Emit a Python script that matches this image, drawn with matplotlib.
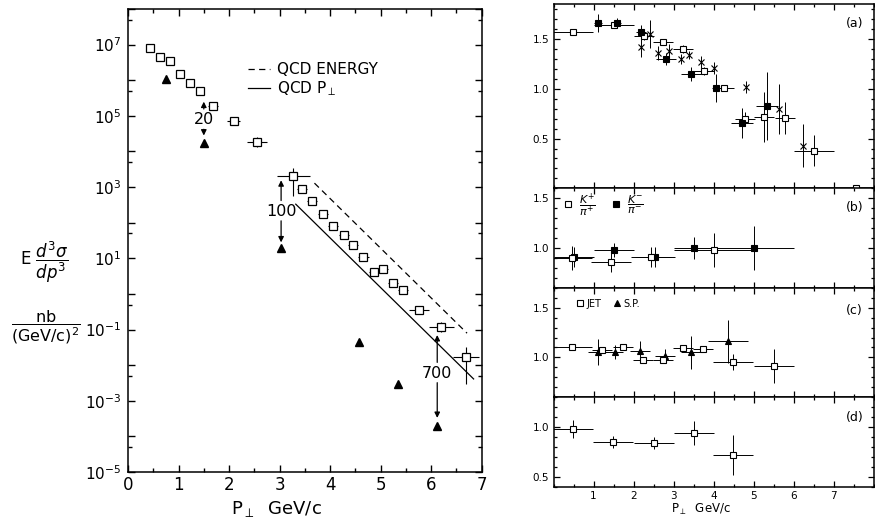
import matplotlib
matplotlib.use('Agg')
import matplotlib.pyplot as plt
from matplotlib.lines import Line2D
from matplotlib.ticker import FixedLocator, FuncFormatter, MultipleLocator, NullFormatter
import numpy as np

plt.rcParams.update({
    'font.family': 'DejaVu Sans',
    'mathtext.fontset': 'dejavusans',
    'axes.linewidth': 1.1,
    'xtick.direction': 'in', 'ytick.direction': 'in',
    'xtick.top': True, 'ytick.right': True,
})

# ---- invariant cross section, jet trigger (open squares) ----
jet_pt = [0.43, 0.63, 0.84, 1.03, 1.22, 1.43, 1.69, 2.09, 2.56, 3.27, 3.44, 3.65,
          3.86, 4.06, 4.27, 4.46, 4.66, 4.86, 5.04, 5.25, 5.44, 5.76, 6.20, 6.69]
jet_xs = [7.9e6, 4.4e6, 3.5e6, 1.5e6, 8.1e5, 4.9e5, 1.9e5, 7.2e4, 1.9e4, 2.0e3, 870, 400,
          180, 80, 46, 23, 10.7, 4.1, 5.0, 2.0, 1.26, 0.36, 0.115, 0.017]
jet_dx = [0.06, 0.06, 0.06, 0.06, 0.06, 0.06, 0.1, 0.13, 0.2, 0.33, 0.1, 0.1,
          0.1, 0.1, 0.1, 0.1, 0.1, 0.1, 0.1, 0.1, 0.1, 0.2, 0.25, 0.25]
# error bar extent in decades below / above the point
jet_dn = [0, 0, 0, 0, 0, 0, 0, 0, 0.14, 0.55, 0, 0, 0, 0, 0, 0, 0, 0, 0, 0, 0, 0, 0.14, 0.75]
jet_up = [0, 0, 0, 0, 0, 0, 0, 0, 0.14, 0.23, 0, 0, 0, 0, 0, 0, 0, 0, 0, 0, 0, 0, 0.14, 0.28]

# single particle (filled triangles)
sp_pt = [0.75, 1.50, 3.03, 4.58, 5.34, 6.12]
sp_xs = [1.1e6, 1.7e4, 20, 0.044, 0.003, 2e-4]

# jet / single particle ratio markers
factor_pt = [1.50, 3.03, 6.12]
factor_label = ['20', '100', '700']
factor_mid = [7.8e4, 210, 0.006]
factor_top = [2.5e5, 1550, 0.07]
factor_bot = [2.8e4, 28, 3.3e-4]

# QCD predictions
qcd_energy_pt = [3.69, 6.71]
qcd_energy = [1290, 0.079]
qcd_pperp_pt = [3.32, 6.84]
qcd_pperp = [331, 0.0041]

# ---- ratio panel (a) ----
a_open_pt = [0.48, 1.50, 2.25, 2.73, 3.23, 3.75, 4.27, 4.78, 5.27, 5.78, 6.52]
a_open_r = [1.57, 1.64, 1.53, 1.47, 1.40, 1.18, 1.01, 0.70, 0.72, 0.71, 0.38]
a_open_dx = [0.5, 0.5, 0.25, 0.25, 0.25, 0.25, 0.25, 0.25, 0.25, 0.25, 0.5]
a_open_dy = [0.02, 0.02, 0.04, 0.03, 0.04, 0.04, 0.03, 0.07, 0.25, 0.16, 0.16]
a_fill_pt = [1.11, 1.58, 2.19, 2.82, 3.44, 4.07, 4.71, 5.33]
a_fill_r = [1.66, 1.66, 1.57, 1.30, 1.15, 1.01, 0.66, 0.83]
a_fill_dx = [0.1, 0.1, 0.12, 0.25, 0.25, 0.1, 0.27, 0.27]
a_fill_dy = [0.09, 0.05, 0.07, 0.06, 0.07, 0.14, 0.15, 0.34]
a_cross_pt = [2.19, 2.42, 2.60, 2.89, 3.19, 3.39, 3.69, 4.02, 4.82, 5.63, 6.23]
a_cross_r = [1.42, 1.55, 1.36, 1.38, 1.30, 1.34, 1.27, 1.21, 1.02, 0.80, 0.43]
a_cross_dy = [0.10, 0.14, 0.07, 0.07, 0.05, 0.04, 0.06, 0.06, 0.06, 0.25, 0.22]
a_edge_pt = [7.55]
a_edge_r = [0.0]

# ---- panel (b): K/pi ----
kp_pt = [0.45, 1.44, 2.44, 4.02]
kp_r = [0.90, 0.86, 0.91, 0.98]
kp_dx = [0.5, 0.5, 0.5, 1.0]
kp_dy = [0.12, 0.10, 0.10, 0.17]
km_pt = [0.50, 1.50, 2.54, 3.52, 5.02]
km_r = [0.91, 0.98, 0.91, 1.00, 1.00]
km_dx = [0.5, 0.5, 0.5, 0.5, 1.0]
km_dy = [0.10, 0.07, 0.10, 0.11, 0.22]

# ---- panel (c): jet vs single particle ----
c_jet_pt = [0.46, 1.21, 1.73, 2.23, 2.73, 3.23, 3.73, 4.48, 5.50]
c_jet_r = [1.10, 1.07, 1.10, 0.97, 0.97, 1.09, 1.08, 0.95, 0.91]
c_jet_dx = [0.5, 0.25, 0.25, 0.25, 0.25, 0.25, 0.25, 0.5, 0.5]
c_jet_dy = [0.02, 0.02, 0.03, 0.03, 0.03, 0.03, 0.03, 0.08, 0.17]
c_sp_pt = [1.10, 1.54, 2.15, 2.79, 3.43, 4.35]
c_sp_r = [1.05, 1.05, 1.06, 1.01, 1.05, 1.16]
c_sp_dx = [0.25, 0.2, 0.25, 0.25, 0.25, 0.5]
c_sp_dy = [0.13, 0.07, 0.10, 0.07, 0.17, 0.22]

# ---- panel (d) ----
d_pt = [0.48, 1.48, 2.50, 3.50, 4.48]
d_r = [0.98, 0.85, 0.84, 0.94, 0.72]
d_dx = [0.5, 0.5, 0.5, 0.5, 0.5]
d_dy = [0.09, 0.06, 0.06, 0.12, 0.20]

fig = plt.figure(figsize=(8.75, 5.23), dpi=100)

# ================= left: cross sections =================
ax = fig.add_axes([0.1463, 0.0975, 0.4042, 0.8853])
ax.set_yscale('log')
ax.set_xlim(0, 7)
ax.set_ylim(1e-5, 1e8)

xs = np.array(jet_xs)
yerr = [xs - xs * 10 ** -np.array(jet_dn), xs * 10 ** np.array(jet_up) - xs]
ax.errorbar(jet_pt, jet_xs, xerr=jet_dx, yerr=yerr, fmt='s', ms=5.5, mfc='white',
            mec='k', mew=0.9, ecolor='k', elinewidth=0.8, capsize=0, zorder=3)
ax.plot(sp_pt, sp_xs, '^', color='k', ms=5.5, zorder=3)

l_energy, = ax.plot(qcd_energy_pt, qcd_energy, color='k', lw=0.9, ls=(0, (5, 3.5)))
l_pperp, = ax.plot(qcd_pperp_pt, qcd_pperp, color='k', lw=0.9)
ax.legend([l_energy, l_pperp], ['QCD ENERGY', r'QCD P$_{\perp}$'], loc='upper left',
          bbox_to_anchor=(0.34, 0.885), frameon=False, fontsize=11, handlelength=1.4,
          handletextpad=0.5, labelspacing=0.15, borderpad=0, borderaxespad=0)

arrow_kw = dict(arrowstyle='-|>', color='k', lw=0.9, mutation_scale=8, shrinkA=0, shrinkB=0)
for x, lab, mid, top, bot in zip(factor_pt, factor_label, factor_mid, factor_top, factor_bot):
    ax.text(x, mid, lab, ha='center', va='center', fontsize=11.5)
    ax.annotate('', xy=(x, top), xytext=(x, mid * 10 ** 0.3), arrowprops=arrow_kw)
    ax.annotate('', xy=(x, bot), xytext=(x, mid * 10 ** -0.27), arrowprops=arrow_kw)

decades = np.arange(-5, 9)
ax.yaxis.set_major_locator(FixedLocator(10.0 ** decades))
ax.yaxis.set_major_formatter(FuncFormatter(
    lambda v, p: r'$10^{%d}$' % round(np.log10(v)) if round(np.log10(v)) % 2 else ''))
ax.yaxis.set_minor_locator(FixedLocator(5 * 10.0 ** decades[decades % 2 == 1]))
ax.yaxis.set_minor_formatter(NullFormatter())
ax.xaxis.set_major_locator(MultipleLocator(1))
ax.xaxis.set_minor_locator(MultipleLocator(0.5))
ax.tick_params(which='major', length=5, width=1.0, labelsize=12, pad=3)
ax.tick_params(axis='y', which='major', labelsize=11, pad=5)
ax.tick_params(which='minor', length=3, width=1.0)

ax.set_xlabel(r'P$_{\perp}$  GeV/c', fontsize=13)
ax.xaxis.set_label_coords(0.42, -0.058)

fig.text(44 / 875, 1 - 262 / 523, r'E $\dfrac{d^{3}\sigma}{dp^{3}}$', ha='center',
         va='center', fontsize=12)
fig.text(46 / 875, 1 - 327 / 523, r'$\dfrac{\mathrm{nb}}{(\mathrm{GeV/c})^{2}}$',
         ha='center', va='center', fontsize=11.5)

# ================= right: ratios =================
gs = fig.add_gridspec(4, 1, left=0.6326, right=0.9983, bottom=0.0694, top=0.9918,
                      hspace=0, height_ratios=[1.85, 1.0, 1.1, 0.9])
axs = [fig.add_subplot(gs[i]) for i in range(4)]
ylims = [(0, 1.85), (0.6, 1.6), (0.6, 1.7), (0.4, 1.3)]
ylabs = [[0.5, 1.0, 1.5], [1.0, 1.5], [1.0, 1.5], [0.5, 1.0]]
tags = ['(a)', '(b)', '(c)', '(d)']
tag_y = [1.66, 1.41, 1.47, 1.10]

for a, yl, labs, tag, ty in zip(axs, ylims, ylabs, tags, tag_y):
    a.set_xlim(0, 8)
    a.set_ylim(*yl)
    a.yaxis.set_major_locator(FixedLocator(labs))
    a.yaxis.set_major_formatter(FuncFormatter(lambda v, p: '%.1f' % v))
    a.yaxis.set_minor_locator(MultipleLocator(0.1))
    a.xaxis.set_major_locator(FixedLocator([1, 2, 3, 4, 5, 6, 7]))
    a.xaxis.set_minor_locator(MultipleLocator(0.5))
    a.tick_params(which='major', length=4, width=0.9, labelsize=7.5, pad=3)
    a.tick_params(which='minor', length=2.5, width=0.9)
    a.text(7.52, ty, tag, ha='center', va='center', fontsize=9)
    if a is not axs[-1]:
        a.tick_params(axis='x', labelbottom=False)

ebar = dict(ms=4, mew=0.8, ecolor='k', elinewidth=0.7, capsize=0, ls='none')

ax_a = axs[0]
ax_a.errorbar(a_open_pt, a_open_r, xerr=a_open_dx, yerr=a_open_dy, marker='s',
              mfc='white', mec='k', zorder=3, **ebar)
ax_a.errorbar(a_fill_pt, a_fill_r, xerr=a_fill_dx, yerr=a_fill_dy, marker='s',
              mfc='k', mec='k', zorder=3, **ebar)
ax_a.errorbar(a_cross_pt, a_cross_r, yerr=a_cross_dy, marker='x', mfc='k', mec='k',
              zorder=3, **ebar)
ax_a.plot(a_edge_pt, a_edge_r, 's', ms=4, mfc='white', mec='k', mew=0.8,
          clip_on=False, zorder=5)

ax_b = axs[1]
ax_b.errorbar(kp_pt, kp_r, xerr=kp_dx, yerr=kp_dy, marker='s', mfc='white', mec='k',
              zorder=4, **ebar)
ax_b.errorbar(km_pt, km_r, xerr=km_dx, yerr=km_dy, marker='s', mfc='k', mec='k',
              zorder=3, **ebar)
h_kp = Line2D([], [], ls='none', marker='s', ms=4, mfc='white', mec='k', mew=0.8)
h_km = Line2D([], [], ls='none', marker='s', ms=4, mfc='k', mec='k', mew=0.8)
ax_b.legend([h_kp, h_km], [r'$\dfrac{K^{+}}{\pi^{+}}$', r'$\dfrac{K^{-}}{\pi^{-}}$'],
            loc='upper left', bbox_to_anchor=(0.03, 0.97), ncol=2, frameon=False,
            fontsize=8, handlelength=0.8, handletextpad=0.6, columnspacing=1.4,
            borderpad=0, borderaxespad=0)

ax_c = axs[2]
ax_c.errorbar(c_jet_pt, c_jet_r, xerr=c_jet_dx, yerr=c_jet_dy, marker='s', mfc='white',
              mec='k', zorder=4, **ebar)
ax_c.errorbar(c_sp_pt, c_sp_r, xerr=c_sp_dx, yerr=c_sp_dy, marker='^', mfc='k',
              mec='k', zorder=3, **ebar)
h_jet = Line2D([], [], ls='none', marker='s', ms=4, mfc='white', mec='k', mew=0.8)
h_sp = Line2D([], [], ls='none', marker='^', ms=4, mfc='k', mec='k', mew=0.8)
ax_c.legend([h_jet, h_sp], ['JET', 'S.P.'], loc='upper left', bbox_to_anchor=(0.07, 0.9),
            ncol=2, frameon=False, fontsize=7, handlelength=0.8, handletextpad=0.3,
            columnspacing=1.2, borderpad=0, borderaxespad=0)

ax_d = axs[3]
ax_d.errorbar(d_pt, d_r, xerr=d_dx, yerr=d_dy, marker='s', mfc='white', mec='k',
              zorder=3, **ebar)
ax_d.set_xlabel(r'P$_{\perp}$  GeV/c', fontsize=8.5)
ax_d.xaxis.set_label_coords(0.46, -0.17)

fig.savefig('out.png', dpi=100)
